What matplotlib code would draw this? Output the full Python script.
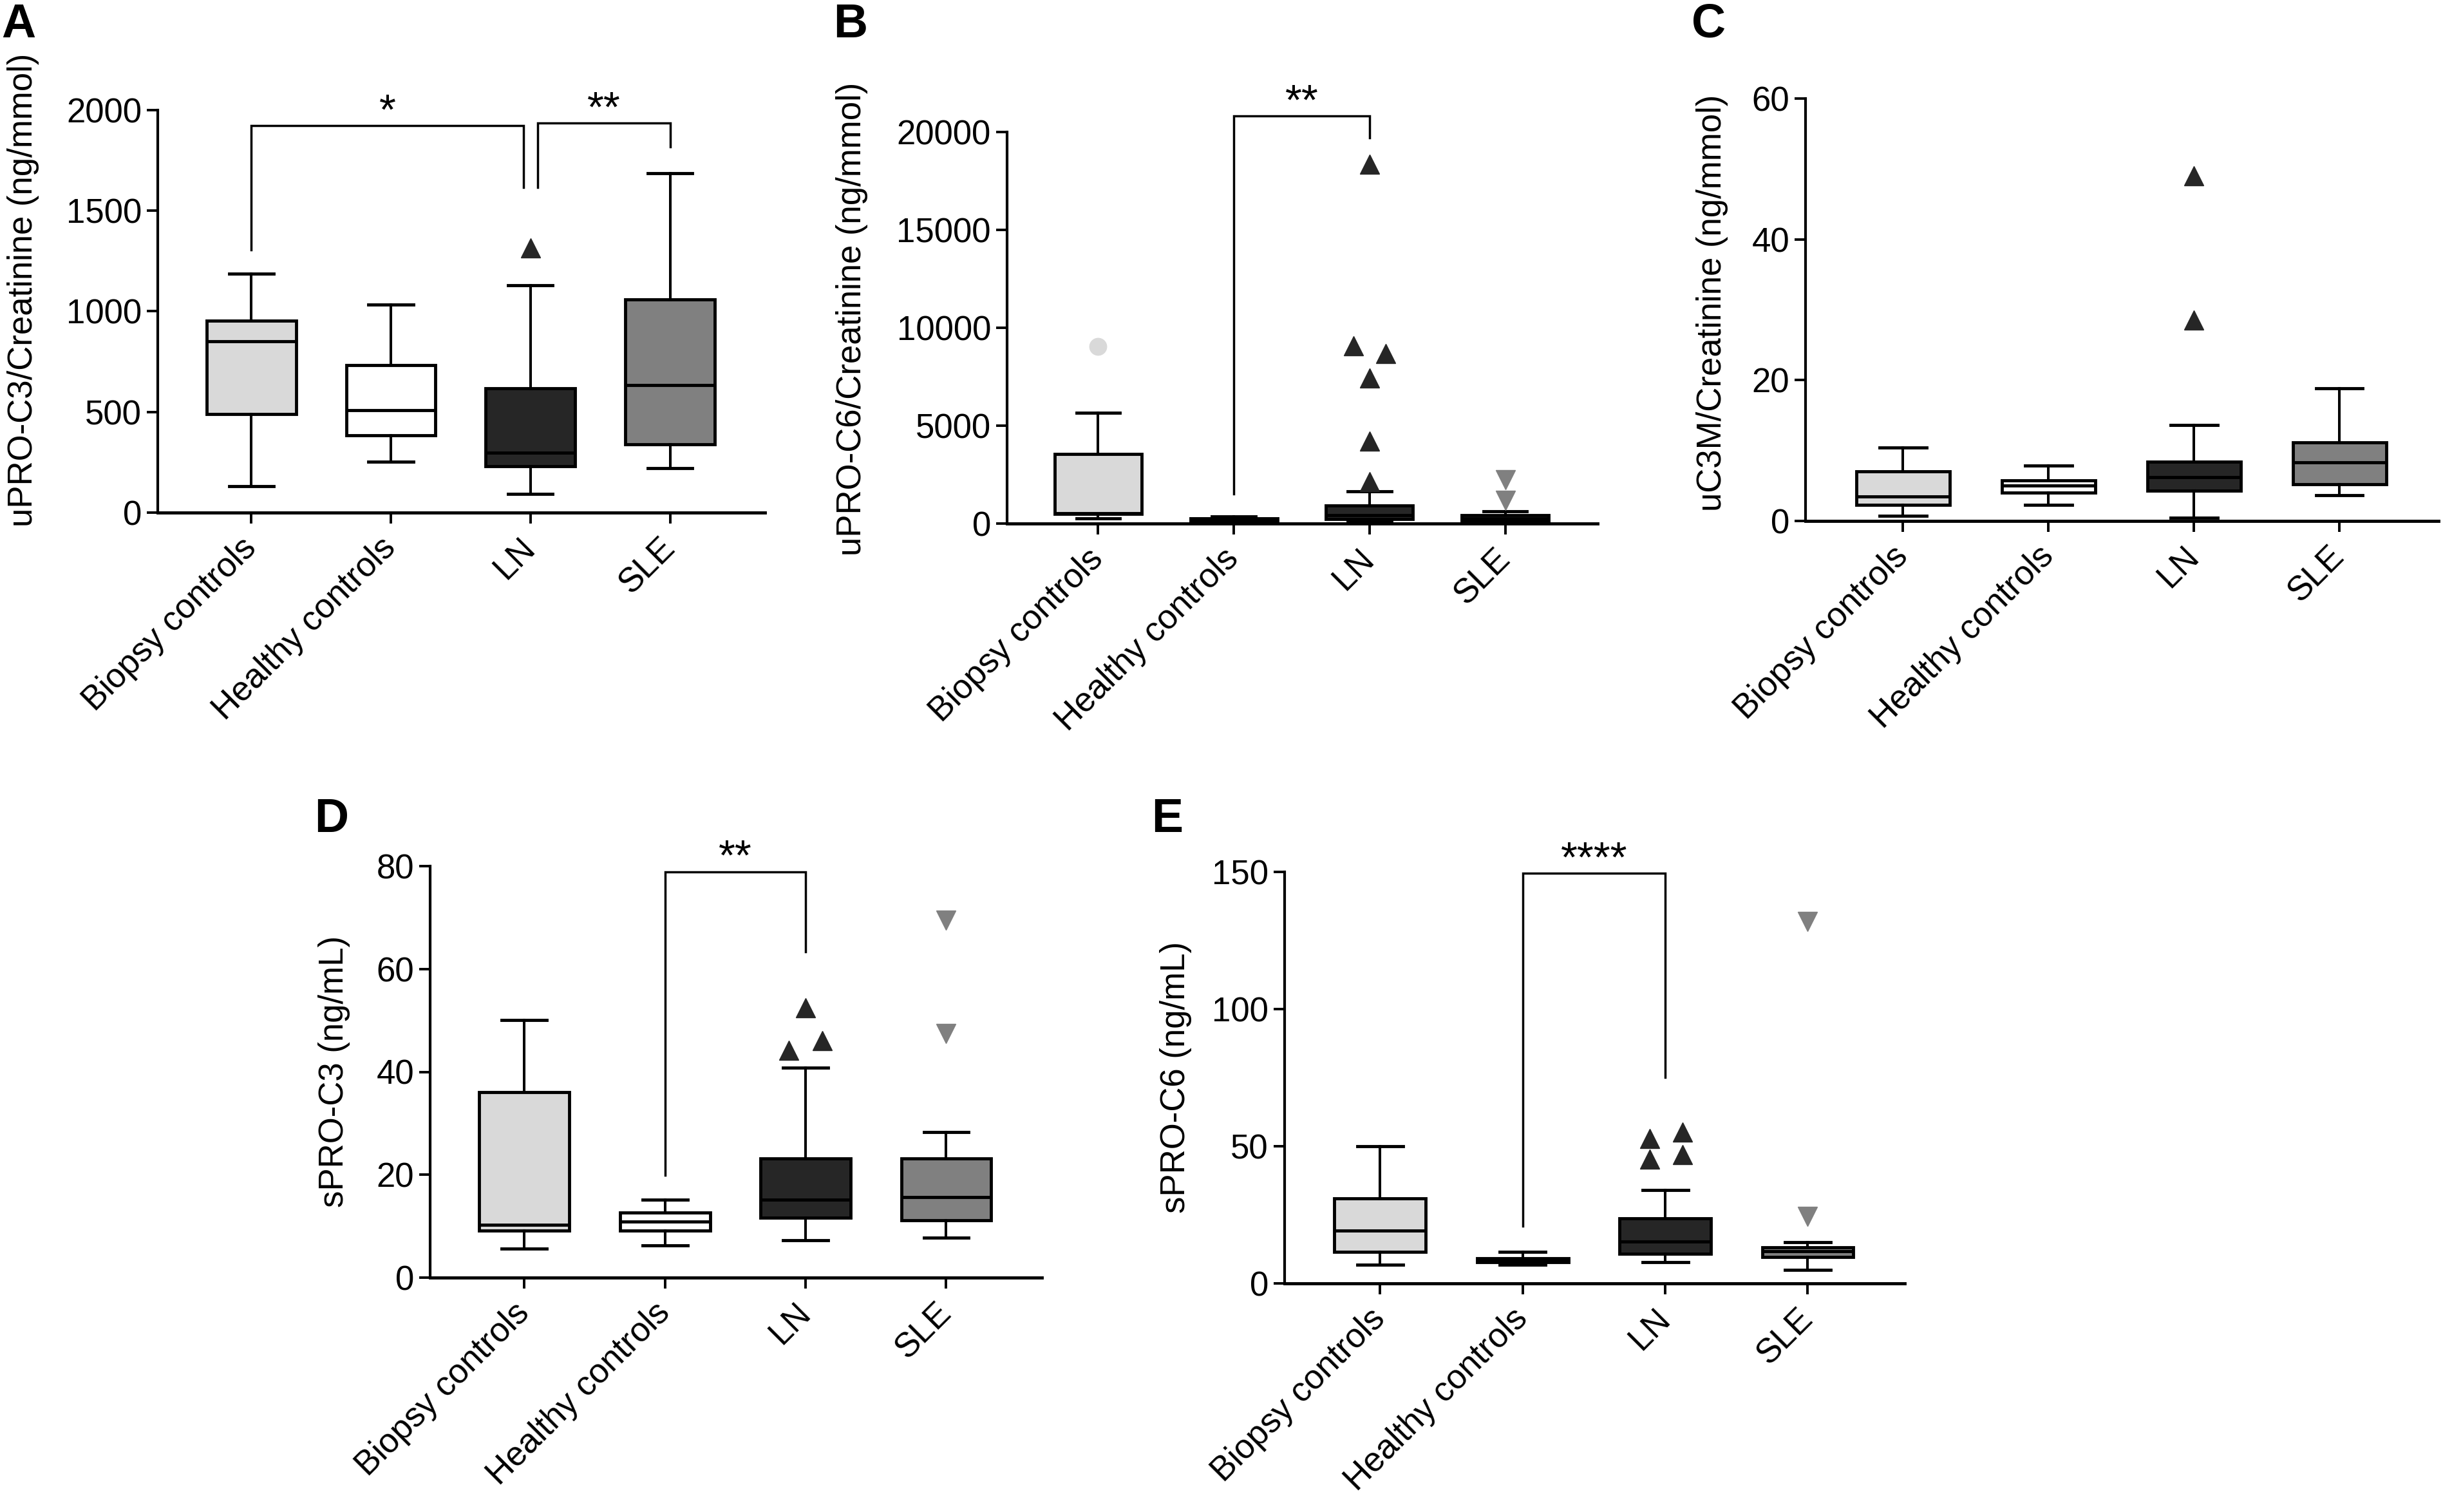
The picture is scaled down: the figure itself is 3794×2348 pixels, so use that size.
import matplotlib
matplotlib.use('Agg')
import matplotlib.pyplot as plt

plt.rcParams['font.family'] = ['Liberation Sans', 'DejaVu Sans']

W, H = 3794, 2348
DPI = 100

groups = ['Biopsy controls', 'Healthy controls', 'LN', 'SLE']
box_colors = ['#d9d9d9', '#ffffff', '#262626', '#808080']
flier_markers = ['o', 'o', '^', 'v']

# A: uPRO-C3/Creatinine
a_whislo = [132, 253, 92, 222]
a_q1 = [489, 383, 229, 340]
a_med = [852, 508, 297, 633]
a_q3 = [952, 734, 617, 1058]
a_whishi = [1188, 1034, 1128, 1686]
a_fliers = [[], [], [1315], []]
a_flier_dx = [[], [], [0], []]

# B: uPRO-C6/Creatinine
b_whislo = [270, 40, 110, 60]
b_q1 = [480, 80, 219, 143]
b_med = [520, 150, 420, 250]
b_q3 = [3565, 253, 930, 417]
b_whishi = [5668, 360, 1645, 625]
b_fliers = [[9050], [], [18360, 9090, 8680, 7430, 4220, 2140], [2230, 1200]]
b_flier_dx = [[0], [], [0, -0.12, 0.12, 0, 0, 0], [0, 0]]

# C: uC3M/Creatinine
c_whislo = [0.7, 2.3, 0.5, 3.7]
c_q1 = [2.3, 4.0, 4.3, 5.2]
c_med = [3.5, 5.0, 6.25, 8.3]
c_q3 = [7.05, 5.8, 8.4, 11.2]
c_whishi = [10.4, 7.9, 13.6, 18.8]
c_fliers = [[], [], [49, 28.5], []]
c_flier_dx = [[], [], [0, 0], []]

# D: sPRO-C3
d_whislo = [5.6, 6.3, 7.3, 7.8]
d_q1 = [9.2, 9.2, 11.7, 11.1]
d_med = [10.3, 10.85, 15.2, 15.7]
d_q3 = [36.0, 12.6, 23.2, 23.2]
d_whishi = [50.1, 15.2, 40.8, 28.3]
d_fliers = [[], [], [52.5, 44.2, 46.1], [69.5, 47.5]]
d_flier_dx = [[], [], [0, -0.12, 0.12], [0, 0]]

# E: sPRO-C6
e_whislo = [6.7, 6.9, 7.8, 4.9]
e_q1 = [11.5, 7.7, 10.7, 9.6]
e_med = [19.2, 8.3, 15.2, 11.8]
e_q3 = [31.0, 9.1, 23.6, 13.2]
e_whishi = [50.0, 11.5, 34.1, 15.0]
e_fliers = [[], [], [52.7, 45.3, 55.1, 46.9], [131.9, 24.5]]
e_flier_dx = [[], [], [-0.11, -0.11, 0.12, 0.12], [0, 0]]

# significance brackets: (x1, x2, top, left end, right end, label)
a_brackets = [(1, 2.95, 1922, 1306, 1615, '*'), (3.05, 4, 1936, 1615, 1818, '**')]
b_brackets = [(2, 3, 20820, 1515, 19700, '**')]
d_brackets = [(2, 3, 78.9, 19.9, 63.3, '**')]
e_brackets = [(2, 3, 149.5, 20.8, 75.1, '****')]

fig = plt.figure(figsize=(W / DPI, H / DPI), dpi=DPI)
FS = 38
LW_BOX = 3.5
LW_WHISK = 2.9


def panel(rect, ylim, yticks, ylabel, label_xy, letter, letter_xy,
          whislo, q1, med, q3, whishi, fliers, flier_dx, brackets=()):
    x0, ytop, x1, y0 = rect
    ax = fig.add_axes([x0 / W, 1 - y0 / H, (x1 - x0) / W, (y0 - ytop) / H])
    stats = []
    for i in range(4):
        stats.append(dict(med=med[i], q1=q1[i], q3=q3[i],
                          whislo=whislo[i], whishi=whishi[i], fliers=[]))
    bp = ax.bxp(stats, positions=[1, 2, 3, 4], widths=0.64, capwidths=0.32,
                showfliers=False, patch_artist=True,
                boxprops=dict(linewidth=LW_BOX, edgecolor='black'),
                medianprops=dict(linewidth=LW_BOX, color='black'),
                whiskerprops=dict(linewidth=LW_WHISK, color='black'),
                capprops=dict(linewidth=LW_BOX, color='black'))
    for patch, c in zip(bp['boxes'], box_colors):
        patch.set_facecolor(c)
    for i in range(4):
        for v, dx in zip(fliers[i], flier_dx[i]):
            ms = 19 if flier_markers[i] == 'o' else 21
            ax.plot(i + 1 + dx, v, marker=flier_markers[i], ms=ms,
                    color=box_colors[i], mec=box_colors[i], ls='none',
                    clip_on=False, zorder=5)
    for bx1, bx2, top, lend, rend, txt in brackets:
        ax.plot([bx1, bx1, bx2, bx2], [lend, top, top, rend], color='black',
                lw=2.5, clip_on=False, solid_joinstyle='miter')
        ax.annotate(txt, xy=((bx1 + bx2) / 2, top), xytext=(0, 2),
                    textcoords='offset points', ha='center', va='baseline',
                    fontsize=48, annotation_clip=False)
    ax.set_xlim(0.33, 4.68)
    ax.set_ylim(*ylim)
    ax.set_yticks(yticks)
    ax.set_yticklabels([str(t) for t in yticks], fontsize=FS)
    ax.set_xticks([1, 2, 3, 4])
    ax.set_xticklabels(groups, fontsize=FS, rotation=45, ha='right',
                       va='center', rotation_mode='anchor')
    ax.tick_params(axis='both', length=12, width=2.8, color='black')
    ax.tick_params(axis='y', pad=6)
    ax.tick_params(axis='x', pad=22)
    for s in ['top', 'right']:
        ax.spines[s].set_visible(False)
    ax.spines['left'].set_linewidth(3.0)
    ax.spines['bottom'].set_linewidth(3.5)
    ax.spines['bottom'].set_zorder(6)
    fig.text(label_xy[0] / W, 1 - label_xy[1] / H, ylabel, rotation=90,
             ha='center', va='center', fontsize=FS)
    fig.text(letter_xy[0] / W, 1 - letter_xy[1] / H, letter,
             fontsize=53, fontweight='bold', ha='left', va='top')
    return ax


panel((245, 171, 1188, 796), (0, 2000), [0, 500, 1000, 1500, 2000],
      'uPRO-C3/Creatinine (ng/mmol)', (36, 450), 'A', (2, 4),
      a_whislo, a_q1, a_med, a_q3, a_whishi, a_fliers, a_flier_dx, a_brackets)
panel((1564, 205, 2481, 813), (0, 20000), [0, 5000, 10000, 15000, 20000],
      'uPRO-C6/Creatinine (ng/mmol)', (1323, 495), 'B', (1294, 4),
      b_whislo, b_q1, b_med, b_q3, b_whishi, b_fliers, b_flier_dx, b_brackets)
panel((2804, 153, 3787, 809), (0, 60), [0, 20, 40, 60],
      'uC3M/Creatinine (ng/mmol)', (2659, 470), 'C', (2627, 4),
      c_whislo, c_q1, c_med, c_q3, c_whishi, c_fliers, c_flier_dx)
panel((668, 1345, 1618, 1984), (0, 80), [0, 20, 40, 60, 80],
      'sPRO-C3 (ng/mL)', (519, 1664), 'D', (488, 1238),
      d_whislo, d_q1, d_med, d_q3, d_whishi, d_fliers, d_flier_dx, d_brackets)
panel((1995, 1354, 2958, 1993), (0, 150), [0, 50, 100, 150],
      'sPRO-C6 (ng/mL)', (1826, 1673), 'E', (1788, 1238),
      e_whislo, e_q1, e_med, e_q3, e_whishi, e_fliers, e_flier_dx, e_brackets)

fig.savefig('out.png', dpi=DPI)
